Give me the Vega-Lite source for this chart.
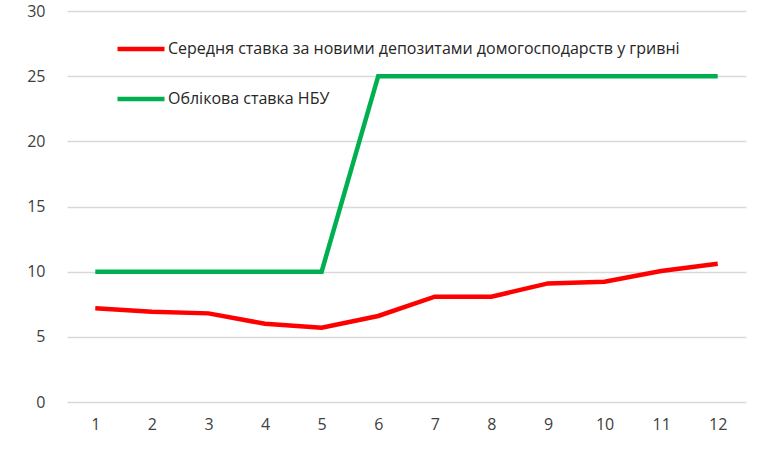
{
  "$schema": "https://vega.github.io/schema/vega-lite/v6.json",
  "width": 679,
  "height": 391,
  "autosize": {"type": "none"},
  "padding": {"left": 67, "top": 11, "right": 18, "bottom": 44},
  "background": "white",
  "config": {
    "view": {"stroke": null},
    "font": "Open Sans"
  },
  "data": {
    "values": [
      {"month": 1, "series": "Середня ставка за новими депозитами домогосподарств у гривні", "rate": 7.2},
      {"month": 2, "series": "Середня ставка за новими депозитами домогосподарств у гривні", "rate": 6.93},
      {"month": 3, "series": "Середня ставка за новими депозитами домогосподарств у гривні", "rate": 6.8},
      {"month": 4, "series": "Середня ставка за новими депозитами домогосподарств у гривні", "rate": 6.0},
      {"month": 5, "series": "Середня ставка за новими депозитами домогосподарств у гривні", "rate": 5.7},
      {"month": 6, "series": "Середня ставка за новими депозитами домогосподарств у гривні", "rate": 6.6},
      {"month": 7, "series": "Середня ставка за новими депозитами домогосподарств у гривні", "rate": 8.08},
      {"month": 8, "series": "Середня ставка за новими депозитами домогосподарств у гривні", "rate": 8.08},
      {"month": 9, "series": "Середня ставка за новими депозитами домогосподарств у гривні", "rate": 9.1},
      {"month": 10, "series": "Середня ставка за новими депозитами домогосподарств у гривні", "rate": 9.23},
      {"month": 11, "series": "Середня ставка за новими депозитами домогосподарств у гривні", "rate": 10.05},
      {"month": 12, "series": "Середня ставка за новими депозитами домогосподарств у гривні", "rate": 10.6},
      {"month": 1, "series": "Облікова ставка НБУ", "rate": 10},
      {"month": 2, "series": "Облікова ставка НБУ", "rate": 10},
      {"month": 3, "series": "Облікова ставка НБУ", "rate": 10},
      {"month": 4, "series": "Облікова ставка НБУ", "rate": 10},
      {"month": 5, "series": "Облікова ставка НБУ", "rate": 10},
      {"month": 6, "series": "Облікова ставка НБУ", "rate": 25},
      {"month": 7, "series": "Облікова ставка НБУ", "rate": 25},
      {"month": 8, "series": "Облікова ставка НБУ", "rate": 25},
      {"month": 9, "series": "Облікова ставка НБУ", "rate": 25},
      {"month": 10, "series": "Облікова ставка НБУ", "rate": 25},
      {"month": 11, "series": "Облікова ставка НБУ", "rate": 25},
      {"month": 12, "series": "Облікова ставка НБУ", "rate": 25}
    ]
  },
  "mark": {"type": "line", "strokeWidth": 4.5},
  "encoding": {
    "x": {
      "field": "month",
      "type": "ordinal",
      "scale": {"type": "point", "padding": 0.5},
      "axis": {
        "title": null,
        "labelAngle": 0,
        "domain": false,
        "ticks": false,
        "labelPadding": 14,
        "labelFontSize": 16,
        "labelColor": "#404040"
      }
    },
    "y": {
      "field": "rate",
      "type": "quantitative",
      "scale": {"domain": [0, 30], "nice": false},
      "axis": {
        "title": null,
        "values": [0, 5, 10, 15, 20, 25, 30],
        "domain": false,
        "ticks": false,
        "labelPadding": 22,
        "labelFontSize": 16,
        "labelColor": "#404040",
        "gridColor": "#D9D9D9",
        "gridWidth": 1.5
      }
    },
    "color": {
      "field": "series",
      "type": "nominal",
      "scale": {
        "domain": ["Середня ставка за новими депозитами домогосподарств у гривні", "Облікова ставка НБУ"],
        "range": ["#FF0000", "#00B050"]
      },
      "legend": {
        "title": null,
        "orient": "none",
        "legendX": 48,
        "legendY": 12,
        "symbolType": "stroke",
        "symbolSize": 2209,
        "symbolStrokeWidth": 4.5,
        "labelFontSize": 16,
        "labelColor": "#262626",
        "labelLimit": 700,
        "labelOffset": 1,
        "rowPadding": 15
      }
    }
  }
}
